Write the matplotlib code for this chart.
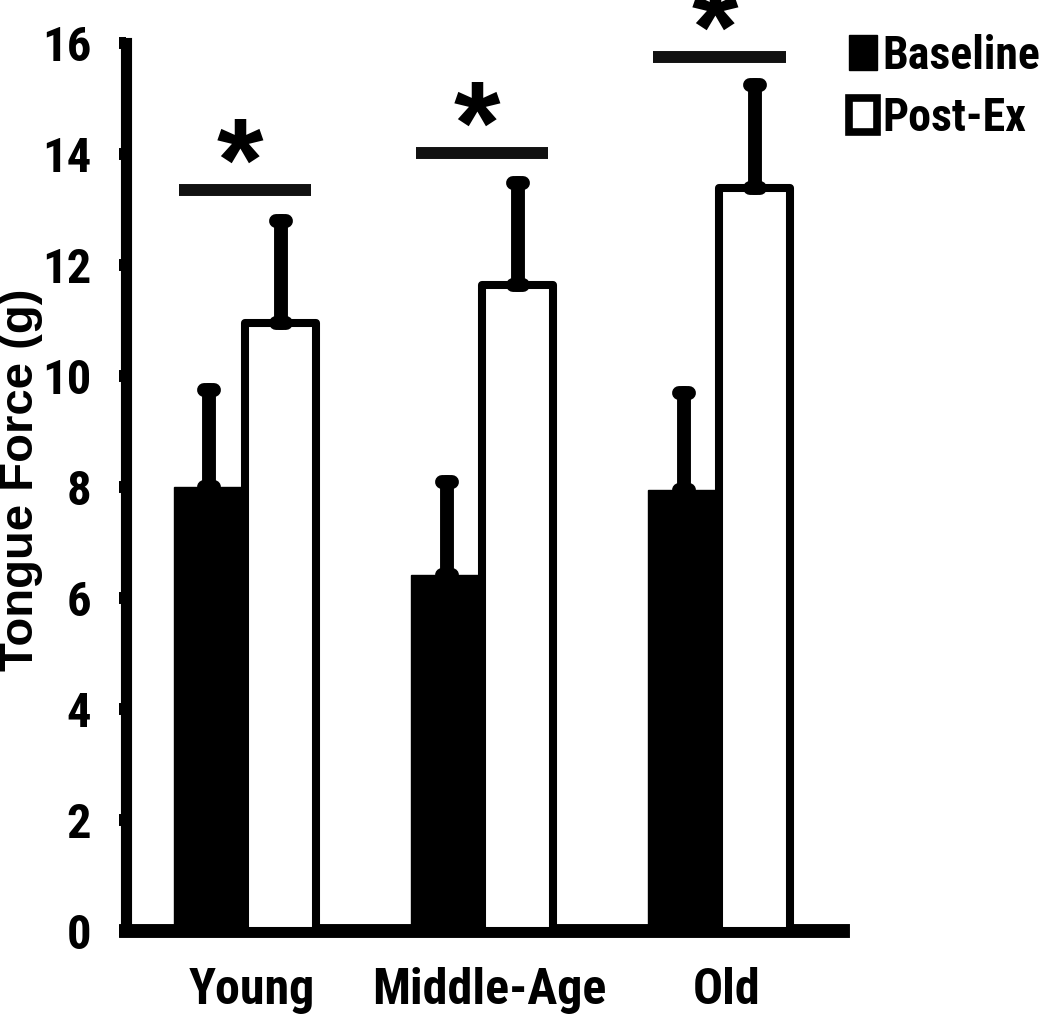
import matplotlib
matplotlib.use("Agg")
import matplotlib.pyplot as plt
import numpy as np
from matplotlib import font_manager
from matplotlib.markers import MarkerStyle
from matplotlib.patches import Patch

groups = ["Young", "Middle-Age", "Old"]
baseline = [8.0, 6.42, 7.95]
baseline_err = [1.75, 1.67, 1.74]
postex = [10.95, 11.64, 13.39]
postex_err = [1.84, 1.84, 1.85]
sig_y = [13.35, 14.02, 15.75]
yticks = [0, 2, 4, 6, 8, 10, 12, 14, 16]


def _w(v):
    if isinstance(v, str):
        return font_manager.weight_dict.get(v, 400)
    return v


# look for a bold condensed face, the original uses something like Arial Narrow Bold
bold_cond = sorted({f.name for f in font_manager.fontManager.ttflist
                    if ("Narrow" in f.name or "Condensed" in f.name)
                    and _w(f.weight) >= 600})
pref = [n for n in ["Liberation Sans Narrow", "Roboto Condensed",
                    "Open Sans Condensed", "Noto Sans Condensed"]
        if n in bold_cond] + bold_cond
narrow = pref[:1] + ["Liberation Sans", "DejaVu Sans"]
wide = ["Liberation Sans", "DejaVu Sans"]
nscale = 1.0 if pref else 0.86

fig = plt.figure(figsize=(10.5, 10.16), dpi=100)
ax = fig.add_axes([0.12, 0.0837, 0.683, 0.874])

x = np.arange(len(groups))
w = 0.3

ax.bar(x - w / 2, baseline, w, color="black", edgecolor="black",
       linewidth=1, zorder=2)
ax.bar(x + w / 2, postex, w, color="white", edgecolor="black",
       linewidth=5.8, joinstyle="round", zorder=3)

cap = MarkerStyle("_", capstyle="round")
for xs, vals, errs in [(x - w / 2, baseline, baseline_err),
                       (x + w / 2, postex, postex_err)]:
    _, caps, bars = ax.errorbar(xs, vals, yerr=[np.zeros(3), errs], fmt="none",
                                ecolor="black", elinewidth=10, capsize=3.6,
                                capthick=10, zorder=4)
    for c in caps:
        c.set_marker(cap)
    for b in bars:
        b.set_capstyle("round")

# significance bars and asterisks
for xi, yi in zip(x, sig_y):
    ax.plot([xi - 0.28, xi + 0.28], [yi, yi], color="#111111", lw=8.6,
            solid_capstyle="butt", zorder=5, clip_on=False)
    ax.annotate("*", xy=(xi - 0.02, yi), xytext=(0, -8),
                textcoords="offset points", ha="center", va="baseline",
                fontsize=86, fontweight="bold", family=wide,
                annotation_clip=False)

ax.set_xlim(-0.502, 2.523)
ax.set_ylim(0, 16)
ax.set_yticks(yticks)
ax.set_xticks(x + 0.03)
ax.set_xticklabels(groups)

for s in ["top", "right"]:
    ax.spines[s].set_visible(False)
ax.spines["left"].set_linewidth(8)
ax.spines["bottom"].set_linewidth(10)
ax.spines["bottom"].set_capstyle("projecting")

ax.tick_params(axis="y", direction="out", length=5, width=8.6, pad=20)
ax.tick_params(axis="x", length=0, pad=26)
for lab in ax.get_yticklabels():
    lab.set_family(narrow)
    lab.set_fontweight("bold")
    lab.set_fontsize(35 * nscale)
for lab in ax.get_xticklabels():
    lab.set_family(narrow)
    lab.set_fontweight("bold")
    lab.set_fontsize(36 * nscale)

ax.set_ylabel("Tongue Force (g)", fontsize=34, fontweight="bold",
              family=wide, va="center")
ax.yaxis.set_label_coords(-0.146, 0.508)

handles = [Patch(facecolor="black", edgecolor="black", linewidth=1,
                 joinstyle="round"),
           Patch(facecolor="white", edgecolor="black", linewidth=5.5,
                 joinstyle="round")]
fig.legend(handles, ["Baseline", "Post-Ex"], loc="upper left",
           bbox_to_anchor=(0.809, 0.967), frameon=False, borderpad=0,
           borderaxespad=0, handlelength=0.6, handleheight=0.78,
           handletextpad=0.12, labelspacing=0.4,
           prop={"family": narrow, "weight": "bold", "size": 33 * nscale})

fig.savefig("out.png", dpi=100)
